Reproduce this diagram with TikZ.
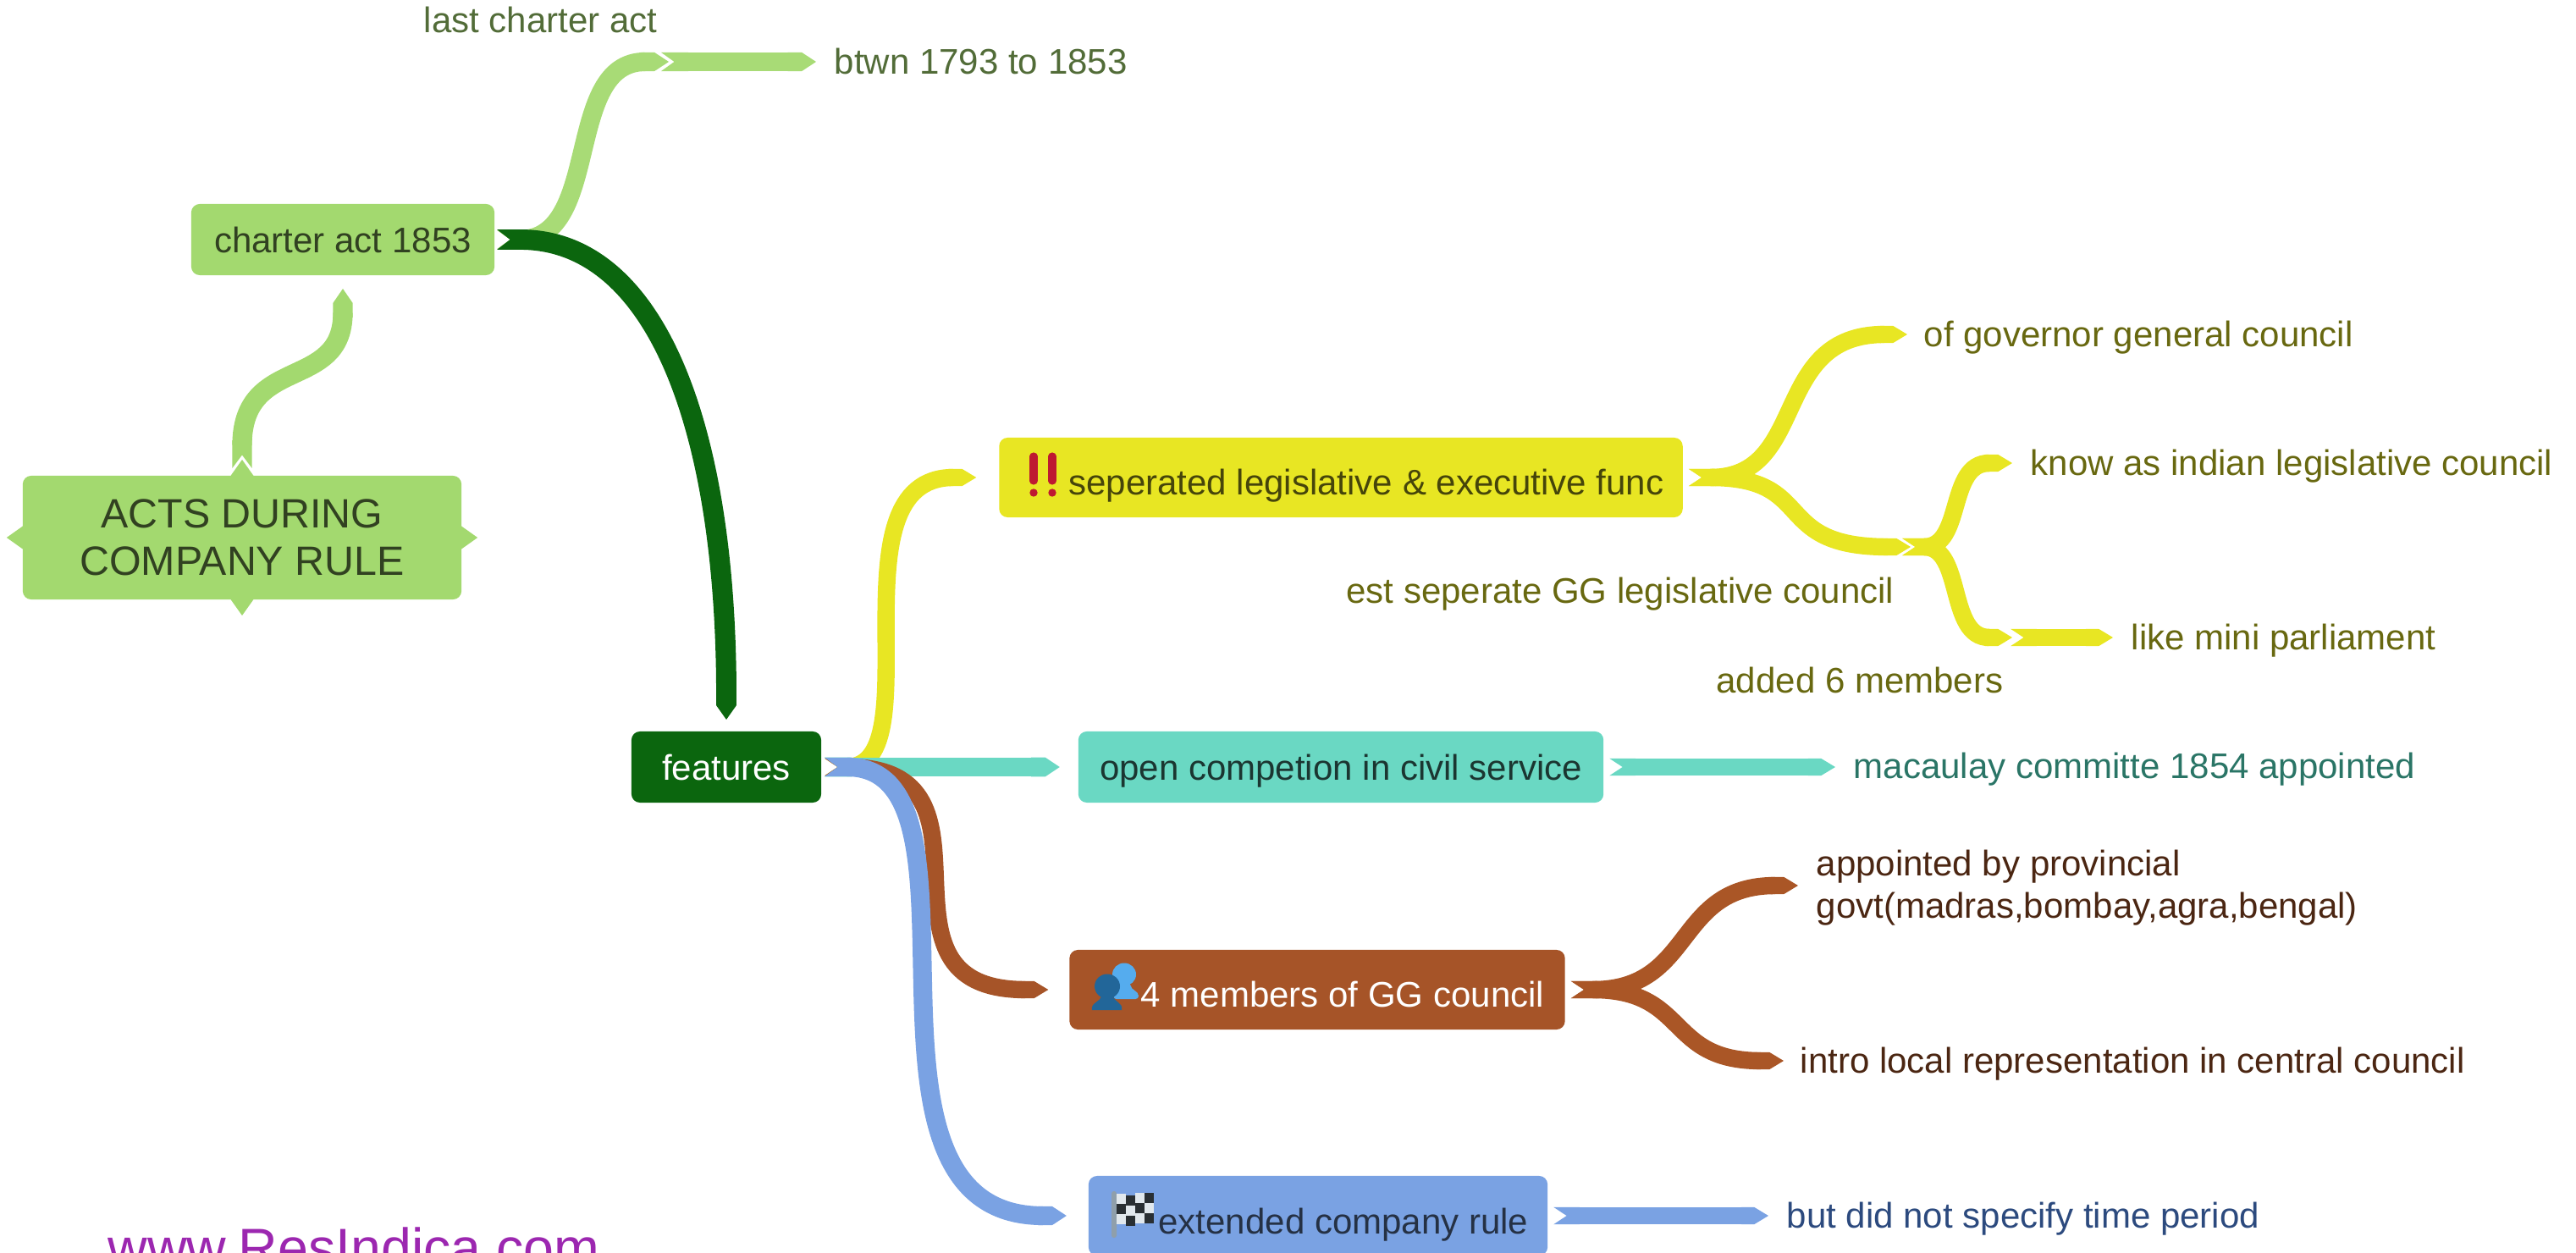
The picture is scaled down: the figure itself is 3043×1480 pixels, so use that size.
\documentclass[tikz,border=0pt]{standalone}
\usepackage{fontspec}
\setmainfont{Liberation Sans}
\usetikzlibrary{arrows.meta}

\definecolor{leafgreen}{HTML}{A3D96F}
\definecolor{darkgreen}{HTML}{0B660E}
\definecolor{sunyellow}{HTML}{E8E623}
\definecolor{seateal}{HTML}{6AD8C3}
\definecolor{rustbrown}{HTML}{A65428}
\definecolor{skyblue}{HTML}{7AA2E3}
\definecolor{sitepurple}{HTML}{9C27B0}
\definecolor{tealtext}{HTML}{2A7566}
\definecolor{bluetext}{HTML}{2C4A7E}
\definecolor{bangred}{HTML}{BE1931}
\definecolor{headblue}{HTML}{55ACEE}
\definecolor{headnavy}{HTML}{226699}
\definecolor{flagpole}{HTML}{8F9FAB}
\definecolor{flaglight}{HTML}{E1E8ED}
\definecolor{flagdark}{HTML}{292F33}

\tikzset{
    % 1 unit is 1 px of the reference
    box/.style={fill=#1, rounded corners=0.1cm, inner sep=0pt, outer sep=0.07cm,
        font=\fontsize{11.95}{14.2}\selectfont, text height=8.6pt, text depth=0pt},
    iconbox/.style={box=#1, minimum height=0.94cm, text height=11.5pt},
    leaf/.style={anchor=west, text=#1, inner xsep=0.21cm, inner ysep=0pt,
        font=\fontsize{11.95}{14.2}\selectfont, text height=8pt, text depth=0pt},
    note/.style={text=#1, inner sep=0pt, font=\fontsize{11.95}{14.2}\selectfont},
    ribbon/.style={draw=#1, line width=5.8pt,
        {Triangle Cap[reversed,length=4.4pt]}-{Triangle Cap[length=4.8pt]}}
}

\begin{document}
\begin{tikzpicture}[x=0.01cm, y=-0.01cm]
    \useasboundingbox (0,0) rectangle (3043,1480);

    % Boxes
    \node[box=leafgreen, minimum width=5.18cm, minimum height=1.46cm, outer sep=0.09cm, align=center,
        text=leafgreen!30!black, font=\fontsize{13.75}{15.9}\selectfont, text height=, text depth=]
        (acts) at (286,635) {ACTS DURING\\COMPANY RULE};
    \node[box=leafgreen, minimum width=3.58cm, minimum height=0.84cm, outer sep=0.03cm,
        text=leafgreen!30!black] (charter) at (405,283) {charter act 1853};
    \node[box=darkgreen, minimum width=2.24cm, minimum height=0.84cm, outer sep=0.04cm,
        text=white] (features) at (858,906) {features};
    \node[iconbox=sunyellow, minimum width=8.07cm, text=sunyellow!30!black]
        (sepfunc) at (1584,564) {\hspace*{17pt}seperated legislative \& executive func};
    \node[box=seateal, minimum width=6.2cm, minimum height=0.84cm,
        text=seateal!25!black] (opencomp) at (1584,906) {open competion in civil service};
    \node[iconbox=rustbrown, minimum width=5.85cm, text=white]
        (ggmembers) at (1556,1169) {\hspace*{17pt}4 members of GG council};
    \node[iconbox=skyblue, minimum width=5.42cm, text=skyblue!30!black, text height=12.5pt]
        (extrule) at (1557,1436) {\hspace*{17pt}extended company rule};

    % Small points round the first box
    \foreach \side/\dir in {north/-90,south/90,east/0,west/180}
        \fill[leafgreen] (acts.\side) ++(\dir:-9) ++(\dir+90:13.5) -- ++(\dir-35.4:23.3) -- ++(\dir+215.4:23.3) -- cycle;

    % Icons inside the boxes
    \foreach \xbang in {1221,1243} {
        \draw[bangred, line width=2.6pt, line cap=round] (\xbang,539) -- (\xbang,568);
        \fill[bangred] (\xbang,582) circle (4.7);
    }
    \fill[headblue] (1328,1151) ellipse [x radius=14, y radius=13.5];
    \fill[headblue, rounded corners=1pt] (1320,1160) -- (1335,1160) .. controls (1336,1170) and (1345,1170) .. (1345,1180) -- (1315,1180) -- cycle;
    \fill[headnavy] (1308,1165) ellipse [x radius=15, y radius=14.5];
    \fill[headnavy] (1290,1193) .. controls (1288,1184) and (1300,1184) .. (1301,1176) -- (1315,1176) .. controls (1316,1184) and (1327,1184) .. (1325,1193) -- cycle;
    \fill[flagpole, rounded corners=0.8pt] (1313,1407) rectangle (1319,1462);
    \foreach \col/\row/\dy/\tone in {0/0/0/flaglight, 0/1/0/flagdark, 0/2/0/flaglight,
        1/0/1.5/flagdark, 1/1/1.5/flaglight, 1/2/1.5/flagdark,
        2/0/-1/flaglight, 2/1/-1/flagdark, 2/2/-1/flaglight,
        3/0/-1.5/flagdark, 3/1/-1.5/flaglight, 3/2/-1.5/flagdark}
        \fill[\tone] (\col*11+1319,\row*12+\dy+1410) rectangle ++(11,12);

    % Leaves
    \node[leaf=leafgreen!50!black] (btwn) at (964,73) {btwn 1793 to 1853};
    \node[leaf=sunyellow!45!black, inner xsep=0.19cm] (govcouncil) at (2253,395) {of governor general council};
    \node[leaf=sunyellow!45!black] (indianlc) at (2377,547) {know as indian legislative council};
    \node[leaf=sunyellow!45!black] (parliament) at (2496,753) {like mini parliament};
    \node[leaf=tealtext, text height=7.4pt] (macaulay) at (2168,906) {macaulay committe 1854 appointed};
    \node[leaf=rustbrown!45!black, align=left, text height=24.3pt, text depth=] (provincial) at (2124,1046)
        {appointed by provincial\\govt(madras,bombay,agra,bengal)};
    \node[leaf=rustbrown!45!black, inner xsep=0.19cm] (localrep) at (2107,1253) {intro local representation in central council};
    \node[leaf=bluetext] (timeperiod) at (2089,1436) {but did not specify time period};

    % Labels above the links
    \node[note=leafgreen!50!black, anchor=base west] (lastact) at (500,39) {last charter act};
    \node[note=sunyellow!45!black, anchor=base east] (gglegis) at (2238,713) {est seperate GG legislative council};
    \node[note=sunyellow!45!black, anchor=base east] (sixadded) at (2367,819) {added 6 members};
    \node[note=sitepurple, anchor=base west, font=\fontsize{18.35}{20}\selectfont] (site) at (127,1496) {www.ResIndica.com};

    % Joints between two links
    \coordinate (lastin) at (790,73);
    \coordinate (lastout) at (781,73);
    \coordinate (legisin) at (2257,646);
    \coordinate (legisout) at (2247,646);
    \coordinate (addedin) at (2377,753);
    \coordinate (addedout) at (2375,753);

    % Links from the top of the map
    \draw[ribbon=leafgreen, line width=6.6pt, shorten >=0.13cm] (acts.north) .. controls +(0,-135) and +(0,135) .. (charter.south);
    \draw[ribbon=leafgreen!95!white, line width=6.3pt] (charter.east) .. controls +(125,0) and +(-125,0) .. (lastin);
    \draw[ribbon=leafgreen!95!white, line width=6.3pt] (lastout) -- (btwn.west);
    \draw[ribbon=darkgreen, line width=6.8pt, shorten >=0.10cm] (charter.east) .. controls +(190,0) and +(0,-350) .. (features.north);

    % Links from features
    \draw[ribbon=sunyellow, shorten >=0.20cm] (features.east) .. controls +(130,0) and +(-195,0) .. (sepfunc.west);
    \draw[ribbon=seateal, line width=6.4pt, shorten >=0.15cm] (features.east) -- (opencomp.west);
    \draw[ribbon=rustbrown, shorten >=0.18cm] (features.east) .. controls +(226,0) and +(-247,0) .. (ggmembers.west);
    \draw[ribbon=skyblue, line width=6.3pt, shorten >=0.19cm] (features.east) .. controls +(210,0) and +(-300,0) .. (extrule.west);

    % Links on the right
    \draw[ribbon=sunyellow] (sepfunc.east) .. controls +(143,0) and +(-163,0) .. (govcouncil.west);
    \draw[ribbon=sunyellow] (sepfunc.east) .. controls +(153,0) and +(-167,0) .. (legisin);
    \draw[ribbon=sunyellow] (legisout) .. controls +(73,0) and +(-77,0) .. (indianlc.west);
    \draw[ribbon=sunyellow] (legisout) .. controls +(73,0) and +(-77,0) .. (addedin);
    \draw[ribbon=sunyellow] (addedout) -- (parliament.west);
    \draw[ribbon=seateal] (opencomp.east) -- (macaulay.west);
    \draw[ribbon=rustbrown!95!orange] (ggmembers.east) .. controls +(147,0) and +(-147,0) .. (provincial.west);
    \draw[ribbon=rustbrown!95!orange] (ggmembers.east) .. controls +(140,0) and +(-140,0) .. (localrep.west);
    \draw[ribbon=skyblue] (extrule.east) -- (timeperiod.west);
\end{tikzpicture}
\end{document}
